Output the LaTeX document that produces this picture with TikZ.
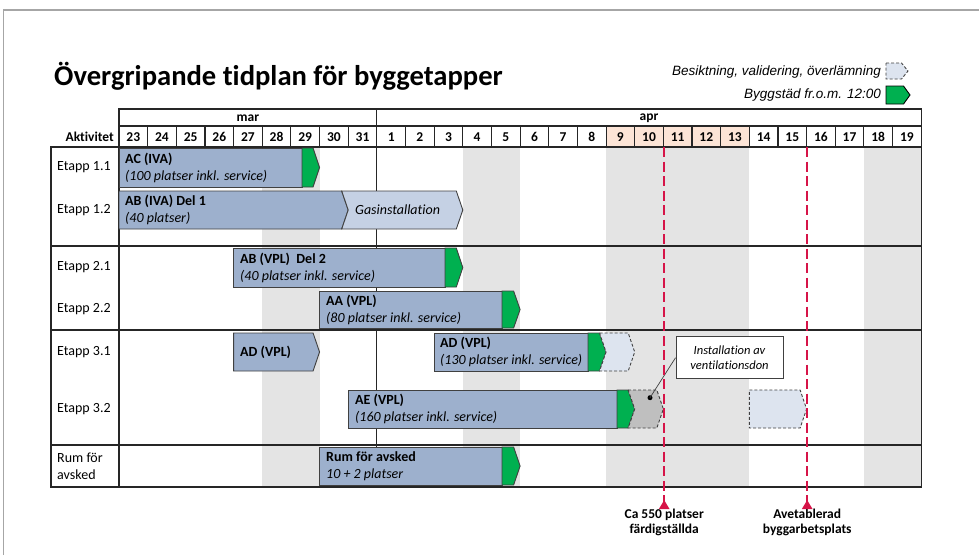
\documentclass[tikz,border=0pt]{standalone}
\usepackage{fontspec}
\setmainfont{Carlito}[Ligatures=NoCommon]
\newfontfamily\arialfont{Liberation Sans}
\usepackage{xcolor}
\usetikzlibrary{arrows.meta,positioning}
\definecolor{barblue}{RGB}{157,176,205}
\definecolor{barline}{RGB}{64,64,64}
\definecolor{gasblue}{RGB}{197,209,228}
\definecolor{checkblue}{RGB}{221,228,239}
\definecolor{capgreen}{RGB}{0,176,80}
\definecolor{ventgray}{RGB}{191,191,191}
\definecolor{weekgray}{RGB}{228,228,228}
\definecolor{easterpeach}{RGB}{252,228,214}
\definecolor{milered}{RGB}{214,20,72}
\definecolor{framegray}{RGB}{166,166,166}

\tikzset{
  gridline/.style={draw=black!85, line width=1.1pt},
  bluebar/.style={fill=barblue, draw=barline, line width=0.9pt},
  gasbar/.style={fill=gasblue, draw=barline, line width=0.9pt},
  greentip/.style={fill=capgreen, draw=barline, line width=0.9pt},
  checkbar/.style={fill=checkblue, draw=barline, line width=0.9pt, dash pattern=on 3pt off 2pt},
  ventbar/.style={fill=ventgray, draw=barline, line width=0.9pt, dash pattern=on 3pt off 2pt},
  bartext/.style={anchor=west, align=left, inner sep=0pt, font=\fontsize{14}{17}\selectfont},
  rowlabel/.style={anchor=west, align=left, inner sep=0pt, font=\fontsize{14}{17}\selectfont},
  headtext/.style={inner sep=0pt, font=\fontsize{13.5}{16}\selectfont\bfseries},
  legendtext/.style={anchor=east, inner sep=0pt, font=\arialfont\itshape\fontsize{13.5}{16}\selectfont},
  callout/.style={draw=barline, fill=white, line width=0.9pt, align=center, minimum width=107pt, minimum height=42pt, inner sep=2pt, font=\fontsize{12.5}{15}\selectfont\itshape},
  dot/.style={circle, fill=black, inner sep=0pt, minimum size=5pt},
  milestone/.style={draw=milered, line width=2.3pt, dash pattern=on 10pt off 4.5pt, -{Triangle[reversed,length=9pt,width=10pt]}},
  milelabel/.style={align=center, inner sep=0pt, font=\fontsize{13.5}{15}\selectfont\bfseries}
}

% pentagon bar: style, left, tip, top, bottom
\newcommand{\chevbar}[5]{\draw[#1] (#2,#4) -- ({#3-6.5},#4) -- (#3,{(#4+#5)/2}) -- ({#3-6.5},#5) -- (#2,#5) -- cycle;}
% notched bar: style, notch, tip, top, bottom
\newcommand{\notchbar}[5]{\draw[#1] ({#2-6.5},#4) -- ({#3-6.5},#4) -- (#3,{(#4+#5)/2}) -- ({#3-6.5},#5) -- ({#2-6.5},#5) -- (#2,{(#4+#5)/2}) -- cycle;}

\begin{document}
\begin{tikzpicture}[x=1pt,y=-1pt]
\useasboundingbox (0,0) rectangle (979,555);
\draw[framegray, line width=1.5pt] (3.5,555) -- (3.5,10) -- (979,10);

% title and legend
\node[anchor=base west, inner sep=0pt, font=\fontsize{28.6}{32}\selectfont\bfseries] (title) at (54,85) {Övergripande tidplan för byggetapper};
\node[legendtext] (legcheck) at (881,72) {Besiktning, validering, överlämning};
\node[legendtext] (legclean) at (881,95) {Byggstäd fr.o.m. 12:00};
\chevbar{checkbar}{886}{908}{63}{79}
\chevbar{greentip, draw=black}{886}{910}{86}{104}

% weekends and easter
\foreach \i in {5,6,12,13,17,18,19,20,21,26,27}
  \fill[weekgray] ({119+\i*28.65},147) rectangle ++(28.65,340);
\foreach \i in {17,...,21}
  \fill[easterpeach] ({119+\i*28.65},126) rectangle ++(28.65,21);

% header
\draw[gridline] (119,109) rectangle (921.2,126);
\draw[gridline] (376.85,109) -- (376.85,126);
\node[headtext] (mar) at (247.9,118) {mar};
\node[headtext] (apr) at (649,118) {apr};
\node[headtext, anchor=east] (akt) at (114,137) {Aktivitet};
\foreach \d [count=\i from 0] in {23,24,25,26,27,28,29,30,31,1,2,3,4,5,6,7,8,9,10,11,12,13,14,15,16,17,18,19} {
  \draw[gridline] ({119+\i*28.65},126) rectangle ++(28.65,21);
  \node[headtext] (day\i) at ({119+(\i+0.5)*28.65},137) {\d};
}

% grid
\draw[gridline] (51,147) rectangle (921.2,487);
\draw[gridline] (119,147) -- (119,487);
\draw[black!85, line width=0.8pt] (376.85,147) -- (376.85,487);
\foreach \y in {246,330,445}
  \draw[gridline] (51,\y) -- (921.2,\y);

\node[rowlabel] (e11) at (57,167) {Etapp 1.1};
\node[rowlabel] (e12) at (57,210) {Etapp 1.2};
\node[rowlabel] (e21) at (57,267) {Etapp 2.1};
\node[rowlabel] (e22) at (57,309) {Etapp 2.2};
\node[rowlabel] (e31) at (57,352) {Etapp 3.1};
\node[rowlabel] (e32) at (57,409) {Etapp 3.2};
\node[rowlabel] (rum) at (57,466) {Rum för\\avsked};

% bars
\draw[bluebar] (119,148) rectangle (302,187);
\chevbar{greentip}{302}{319.55}{148}{187}
\chevbar{bluebar}{119}{348.2}{191}{229}
\notchbar{gasbar}{348.2}{462.8}{191}{229}
\draw[bluebar] (233.6,248) rectangle (445,287);
\chevbar{greentip}{445}{462.8}{248}{287}
\draw[bluebar] (319.55,291) rectangle (502,328);
\chevbar{greentip}{502}{520.1}{291}{328}
\chevbar{bluebar}{233.6}{319.55}{333}{371}
\draw[bluebar] (434.15,333) rectangle (588,371);
\chevbar{greentip}{588}{606.05}{333}{371}
\notchbar{checkbar}{606.05}{634.7}{333}{371}
\draw[bluebar] (348.2,390) rectangle (617,428);
\chevbar{greentip}{617}{634.7}{390}{428}
\notchbar{ventbar}{634.7}{663.35}{390}{428}
\chevbar{checkbar}{749.3}{806.6}{390}{428}
\draw[bluebar] (319.55,447) rectangle (502,485);
\chevbar{greentip}{502}{520.1}{447}{485}

\node[bartext] (ac) at (125,167.5) {\textbf{AC (IVA)}\\\textit{(100 platser inkl. service)}};
\node[bartext] (abiva) at (125,210) {\textbf{AB (IVA) Del 1}\\\textit{(40 platser)}};
\node[bartext] (gas) at (355,210) {\textit{Gasinstallation}};
\node[bartext] (abvpl) at (240,267.5) {\textbf{AB (VPL)\ \ Del 2}\\\textit{(40 platser inkl. service)}};
\node[bartext] (aa) at (326,309.5) {\textbf{AA (VPL)}\\\textit{(80 platser inkl. service)}};
\node[bartext] (ad1) at (240,352) {\textbf{AD (VPL)}};
\node[bartext] (ad2) at (440,352) {\textbf{AD (VPL)}\\\textit{(130 platser inkl. service)}};
\node[bartext] (ae) at (355,409) {\textbf{AE (VPL)}\\\textit{(160 platser inkl. service)}};
\node[bartext] (rumbar) at (326,466) {\textbf{Rum för avsked}\\\textit{10 + 2 platser}};

% callout
\node[callout] (vent) at (729.5,357.7) {Installation av\\ventilationsdon};
\node[dot] (ventdot) at (650,397.7) {};
\draw[barline, line width=0.7pt] (vent.west) -- (ventdot.center);

% milestones
\coordinate (donetop) at (664.2,147);
\coordinate (cleartop) at (807.2,147);
\node[milelabel, anchor=north] (done) at (664.2,509) {Ca 550 platser\\färdigställda};
\node[milelabel, anchor=north] (clear) at (807.2,509) {Avetablerad\\byggarbetsplats};
\draw[milestone] (donetop) -- (done.north);
\draw[milestone] (cleartop) -- (clear.north);
\end{tikzpicture}
\end{document}
